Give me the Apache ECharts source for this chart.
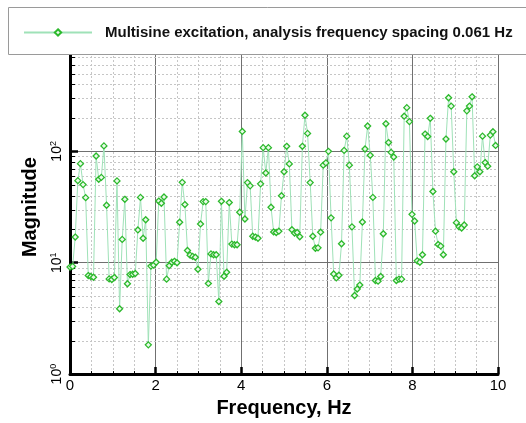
<!DOCTYPE html>
<html>
<head>
<meta charset="utf-8">
<script src="https://cdn.jsdelivr.net/npm/echarts@6/dist/echarts.min.js"></script>
<style>
  html, body { margin: 0; padding: 0; background: #ffffff; }
  #chart { width: 526px; height: 423px; }
</style>
</head>
<body>
<div id="chart"></div>
<script>
// Analysis frequencies (Hz), 0.061 Hz apart
const frequency = [
  0, 0.061, 0.122, 0.183, 0.244, 0.305, 0.366, 0.427, 0.488, 0.549,
  0.61, 0.671, 0.732, 0.793, 0.854, 0.915, 0.976, 1.037, 1.098, 1.159,
  1.22, 1.281, 1.342, 1.403, 1.464, 1.525, 1.586, 1.647, 1.708, 1.769,
  1.83, 1.891, 1.952, 2.013, 2.074, 2.135, 2.196, 2.257, 2.318, 2.379,
  2.44, 2.501, 2.562, 2.623, 2.684, 2.745, 2.806, 2.867, 2.928, 2.989,
  3.05, 3.111, 3.172, 3.233, 3.294, 3.355, 3.416, 3.477, 3.538, 3.599,
  3.66, 3.721, 3.782, 3.843, 3.904, 3.965, 4.026, 4.087, 4.148, 4.209,
  4.27, 4.331, 4.392, 4.453, 4.514, 4.575, 4.636, 4.697, 4.758, 4.819,
  4.88, 4.941, 5.002, 5.063, 5.124, 5.185, 5.246, 5.307, 5.368, 5.429,
  5.49, 5.551, 5.612, 5.673, 5.734, 5.795, 5.856, 5.917, 5.978, 6.039,
  6.1, 6.161, 6.222, 6.283, 6.344, 6.405, 6.466, 6.527, 6.588, 6.649,
  6.71, 6.771, 6.832, 6.893, 6.954, 7.015, 7.076, 7.137, 7.198, 7.259,
  7.32, 7.381, 7.442, 7.503, 7.564, 7.625, 7.686, 7.747, 7.808, 7.869,
  7.93, 7.991, 8.052, 8.113, 8.174, 8.235, 8.296, 8.357, 8.418, 8.479,
  8.54, 8.601, 8.662, 8.723, 8.784, 8.845, 8.906, 8.967, 9.028, 9.089,
  9.15, 9.211, 9.272, 9.333, 9.394, 9.455, 9.516, 9.577, 9.638, 9.699,
  9.76, 9.821, 9.882, 9.943
];

// Response magnitude at each analysis frequency
const magnitude = [
  9.14, 9.27, 17.0, 54.6, 77.6, 50.3, 38.4, 7.67, 7.52, 7.41,
  90.8, 56.1, 58.4, 112, 32.8, 7.16, 7.07, 7.37, 54.3, 3.86,
  16.2, 37.1, 6.47, 7.83, 7.88, 8.0, 19.7, 38.6, 16.6, 24.3,
  1.83, 9.33, 9.52, 10.1, 35.8, 34.2, 38.9, 7.12, 9.41, 10.1,
  10.3, 10.0, 23.1, 52.7, 33.3, 12.9, 11.7, 11.4, 11.2, 8.73,
  22.3, 35.4, 35.4, 6.52, 12.0, 11.8, 11.8, 4.48, 35.6, 7.56,
  8.2, 34.7, 14.7, 14.5, 14.5, 28.4, 151, 24.7, 52.4, 49.0,
  17.3, 17.0, 16.6, 51.1, 108, 63.9, 108, 31.5, 18.9, 18.7,
  19.2, 40.0, 65.6, 111, 77.2, 19.8, 18.5, 18.7, 17.1, 111,
  211, 145, 52.4, 17.3, 13.5, 13.6, 18.8, 75.2, 78.8, 100,
  25.3, 7.93, 7.31, 7.72, 14.8, 102, 137, 75.2, 21.0, 5.08,
  5.8, 6.3, 23.2, 105, 169, 92.2, 38.6, 6.93, 6.83, 7.52,
  18.2, 177, 120, 98, 89, 6.93, 7.12, 7.12, 207, 247,
  185, 27.2, 23.7, 10.4, 10.1, 11.8, 143, 136, 198, 43.6,
  19.2, 14.6, 14.1, 11.8, 129, 303, 255, 65.6, 22.9, 21.0,
  20.5, 21.8, 231, 255, 309, 60.4, 72.6, 65.6, 137, 79.3,
  73.6, 140, 150, 113
];

// Intermediate decade values that get a dotted grid line and a small tick
const yMinorValues = [
  2, 3, 4, 5, 6, 7, 8, 9,
  20, 30, 40, 50, 60, 70, 80, 90,
  200, 300, 400, 500, 600, 700, 800, 900
];

const seriesName = 'Multisine excitation, analysis frequency spacing 0.061 Hz';
const FONT = '"Liberation Sans", Arial, Helvetica, sans-serif';

const chart = echarts.init(document.getElementById('chart'), null, { renderer: 'canvas' });

const option = {
  animation: false,
  backgroundColor: '#ffffff',
  grid: { left: 70, right: 28, top: 40, bottom: 43, containLabel: false },
  legend: {
    show: true,
    data: [seriesName],
    left: 23,
    top: 25,
    padding: 0,
    itemWidth: 68,
    itemHeight: 8,
    z: 60,
    textStyle: {
      fontFamily: FONT, fontSize: 15, fontWeight: 'bold', color: '#111111',
      padding: [0, 0, 0, 8]
    }
  },
  graphic: [{
    type: 'rect',
    z: 50,
    silent: true,
    shape: { x: 8.5, y: 7.5, width: 540, height: 47 },
    style: { fill: '#ffffff', stroke: '#9a9a9a', lineWidth: 1 }
  }],
  xAxis: {
    type: 'value',
    min: 0,
    max: 10,
    interval: 2,
    name: 'Frequency, Hz',
    nameLocation: 'middle',
    nameGap: 18,
    nameTextStyle: { fontFamily: FONT, fontSize: 20, fontWeight: 'bold', color: '#000000' },
    axisLine: { show: true, onZero: false, lineStyle: { color: '#000000', width: 3 } },
    axisTick: { show: true, inside: true, length: 7, lineStyle: { color: '#000000', width: 2.5 } },
    minorTick: { show: true, splitNumber: 4, length: 3, lineStyle: { color: '#000000', width: 1 } },
    axisLabel: { fontFamily: FONT, fontSize: 15, color: '#000000', margin: 4 },
    splitLine: { show: true, lineStyle: { color: '#707070', width: 1 } },
    minorSplitLine: { show: true, lineStyle: { color: '#c6c6c6', width: 1, type: [2, 2] } }
  },
  yAxis: {
    type: 'log',
    logBase: 10,
    min: 1,
    max: 1000,
    name: 'Magnitude',
    nameLocation: 'middle',
    nameGap: 30,
    nameRotate: 90,
    nameTextStyle: { fontFamily: FONT, fontSize: 20, fontWeight: 'bold', color: '#000000' },
    axisLine: { show: true, onZero: false, lineStyle: { color: '#000000', width: 3 } },
    axisTick: { show: true, inside: true, length: 8, lineStyle: { color: '#000000', width: 2.5 } },
    axisLabel: {
      rotate: 90,
      margin: 5,
      formatter: function (v) {
        return '{b|10}{s|' + Math.round(Math.log10(v)) + '}';
      },
      rich: {
        b: { fontFamily: FONT, fontSize: 14, color: '#000000', lineHeight: 16 },
        s: { fontFamily: FONT, fontSize: 9, color: '#000000', lineHeight: 9, verticalAlign: 'top' }
      }
    },
    splitLine: { show: true, lineStyle: { color: '#707070', width: 1 } }
  },
  series: [
    {
      // dotted minor grid and short ticks between the decades
      type: 'custom',
      name: 'decadeMinor',
      silent: true,
      z: 1,
      data: yMinorValues.map(function (v) { return [0, v]; }),
      encode: { x: 0, y: 1 },
      renderItem: function (params, api) {
        const v = api.value(1);
        const a = api.coord([0, v]);
        const b = api.coord([10, v]);
        const y = Math.round(a[1]) + 0.5;
        return {
          type: 'group',
          children: [
            {
              type: 'line',
              shape: { x1: a[0], y1: y, x2: b[0], y2: y },
              style: { stroke: '#c6c6c6', lineWidth: 1, lineDash: [2, 2] }
            },
            {
              type: 'line',
              shape: { x1: a[0], y1: y, x2: a[0] + 5, y2: y },
              style: { stroke: '#000000', lineWidth: 1 }
            }
          ]
        };
      }
    },
    {
      type: 'line',
      name: seriesName,
      z: 3,
      data: frequency.map(function (f, i) { return [f, magnitude[i]]; }),
      symbol: 'diamond',
      symbolSize: 6,
      showAllSymbol: true,
      lineStyle: { color: '#9fe2b8', width: 1 },
      itemStyle: { color: '#e9fbe9', borderColor: '#2cb92c', borderWidth: 1.3 }
    }
  ]
};

chart.setOption(option);
</script>
</body>
</html>
